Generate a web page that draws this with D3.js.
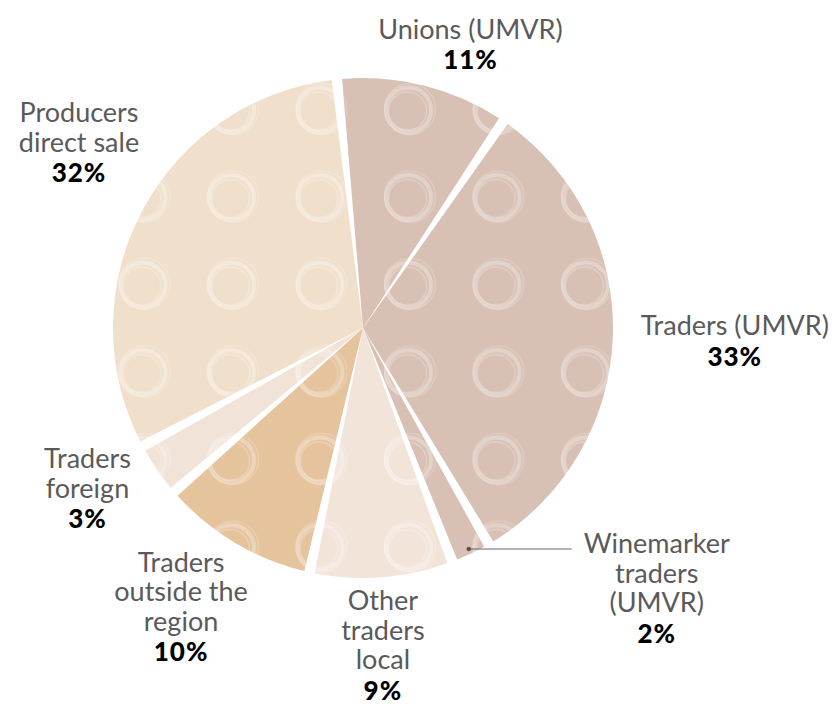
<!DOCTYPE html>
<html>
<head>
<meta charset="utf-8">
<script src="https://cdn.jsdelivr.net/npm/d3@7"></script>
<style>
  html, body { margin: 0; padding: 0; background: #fff; }
  svg { display: block; }
  .lbl { font-family: Lato, "Open Sans", sans-serif; font-size: 27px; fill: #5a5a5a; }
  .pct { font-family: Lato, "Open Sans", sans-serif; font-size: 26px; font-weight: 900; fill: #000; letter-spacing: 1px; }
</style>
</head>
<body>
<div id="chart"></div>
<script>
// slices, clockwise from the top
const categories = [
  "Unions (UMVR)",
  "Traders (UMVR)",
  "Winemarker traders (UMVR)",
  "Other traders local",
  "Traders outside the region",
  "Traders foreign",
  "Producers direct sale"
];
const values = [11, 33, 2, 9, 10, 3, 32];
const labelLines = [
  ["Unions (UMVR)"],
  ["Traders (UMVR)"],
  ["Winemarker", "traders", "(UMVR)"],
  ["Other", "traders", "local"],
  ["Traders", "outside the", "region"],
  ["Traders", "foreign"],
  ["Producers", "direct sale"]
];
const colors = ["#d8c0b4", "#d8c0b4", "#d8c0b4", "#f3e4da", "#e5c39d", "#f2e3d8", "#f0dfcb"];

function drawPie() {
  const width = 839;
  const height = 706;
  const cx = 363, cy = 328;
  const radius = 250;
  const lineH = 29.5;
  const deg = Math.PI / 180;

  // label placement: radius from centre and angle shift from the slice middle
  const labelLayout = {
    "Unions (UMVR)": { r: 303, shift: 6.7 },
    "Traders (UMVR)": { r: 372, shift: 0 },
    "Other traders local": { r: 318, shift: 0.7 },
    "Traders outside the region": { r: 333, shift: 2.4 },
    "Traders foreign": { r: 319, shift: 4.3 },
    "Producers direct sale": { r: 339, shift: 5.2 }
  };

  const data = categories.map((c, i) => ({
    name: c, value: values[i], lines: labelLines[i], color: colors[i]
  }));

  const pie = d3.pie()
    .sort(null)
    .value(d => d.value)
    .startAngle(-6 * deg)
    .endAngle(354 * deg)
    .padAngle(0.042);

  const arcs = pie(data);

  const arc = d3.arc().innerRadius(0).outerRadius(radius);

  const svg = d3.select("#chart")
    .append("svg")
    .attr("width", width)
    .attr("height", height);

  // sketchy ring texture
  const cellW = 88.5, cellH = 87.5;
  const pat = svg.append("defs").append("pattern")
    .attr("id", "rings")
    .attr("patternUnits", "userSpaceOnUse")
    .attr("width", cellW)
    .attr("height", cellH)
    .attr("x", 143 - cx - cellW / 2)
    .attr("y", 110 - cy - cellH / 2);

  const pc = [cellW / 2, cellH / 2];
  pat.append("circle")
    .attr("cx", pc[0]).attr("cy", pc[1]).attr("r", 22.5)
    .attr("fill", "none").attr("stroke", "#fff")
    .attr("stroke-width", 4).attr("stroke-opacity", 0.3);
  pat.append("circle")
    .attr("cx", pc[0] - 1).attr("cy", pc[1] + 1).attr("r", 19)
    .attr("fill", "none").attr("stroke", "#fff")
    .attr("stroke-width", 1.1).attr("stroke-opacity", 0.3);
  pat.append("circle")
    .attr("cx", pc[0] + 1.5).attr("cy", pc[1] - 1).attr("r", 25.5)
    .attr("fill", "none").attr("stroke", "#fff")
    .attr("stroke-width", 1).attr("stroke-opacity", 0.26);

  const g = svg.append("g").attr("transform", `translate(${cx},${cy})`);

  g.selectAll("path.slice")
    .data(arcs)
    .join("path")
    .attr("class", "slice")
    .attr("d", arc)
    .attr("fill", d => d.data.color);

  g.selectAll("path.texture")
    .data(arcs)
    .join("path")
    .attr("class", "texture")
    .attr("d", arc)
    .attr("fill", "url(#rings)");

  // labels
  arcs.forEach(a => {
    const mid = (a.startAngle + a.endAngle) / 2;
    const lines = a.data.lines;
    const nLines = lines.length + 1;
    let x, yTop;

    if (a.data.name === "Winemarker traders (UMVR)") {
      const dr = 245;
      const dx = Math.sin(mid) * dr, dy = -Math.cos(mid) * dr;
      g.append("line")
        .attr("x1", dx).attr("y1", dy)
        .attr("x2", dx + 103).attr("y2", dy)
        .attr("stroke", "#666").attr("stroke-width", 1.2);
      g.append("circle")
        .attr("cx", dx).attr("cy", dy).attr("r", 2.2)
        .attr("fill", "#555");
      x = dx + 188;
      yTop = dy + 4;
    } else {
      const L = labelLayout[a.data.name];
      const ang = mid + L.shift * deg;
      x = Math.sin(ang) * L.r;
      const yc = -Math.cos(ang) * L.r;
      yTop = yc - (nLines - 1) * lineH / 2 + 9;
    }

    const t = g.append("text").attr("text-anchor", "middle");
    lines.forEach((ln, i) => {
      t.append("tspan")
        .attr("class", "lbl")
        .attr("x", x)
        .attr("y", yTop + i * lineH)
        .text(ln);
    });
    t.append("tspan")
      .attr("class", "pct")
      .attr("x", x)
      .attr("y", yTop + lines.length * lineH + 1)
      .text(a.data.value + "%");
  });
}

drawPie();
</script>
</body>
</html>
